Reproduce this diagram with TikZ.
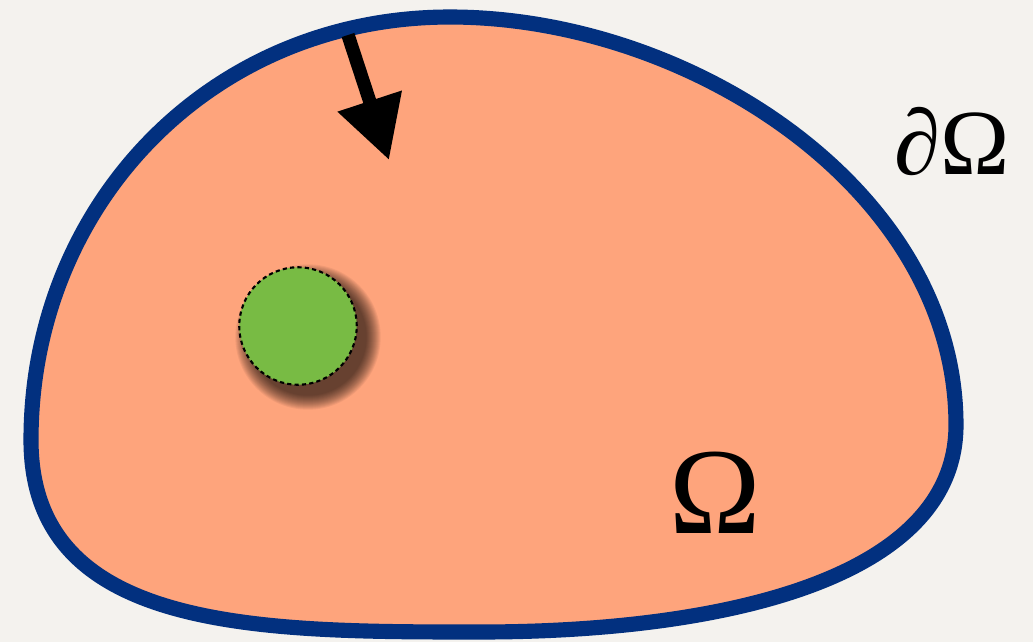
\documentclass[tikz,border=0pt]{standalone}
\usepackage{fontspec}
\newfontfamily\tms{Liberation Serif}
\usetikzlibrary{arrows.meta}
\definecolor{bgcol}{HTML}{F4F2EE}
\definecolor{salmon}{HTML}{FEA47C}
\definecolor{navy}{HTML}{02307F}
\definecolor{leaf}{HTML}{78BB44}
\tikzset{
  boundary/.style={draw=navy, line width=4.3pt, fill=salmon, line join=round},
  hole/.style={fill=leaf, draw=black, line width=0.6pt, dash pattern=on 1.2pt off 0.9pt},
  flux/.style={line width=3.8pt, -{Triangle[width=6.4mm,length=6.2mm]}},
  lbl/.style={inner sep=0pt, text=black}
}
\begin{document}
\begin{tikzpicture}[x=0.01cm,y=-0.01cm]
\useasboundingbox (0,0) rectangle (1033,642);
\fill[bgcol] (0,0) rectangle (1033,642);
% domain
\draw[boundary] (450,17) .. controls (690,17) and (956,190) .. (956,425)
  .. controls (956,580) and (720,632) .. (480,632)
  .. controls (260,632) and (31,632) .. (31,440)
  .. controls (31,205) and (210,17) .. cycle;
% shadow of hole
\foreach \i in {0,...,14}{
  \fill[black, opacity=0.055] (308,337) circle[radius={58.7+14-\i}];
}
\node[hole, circle, minimum size=1.174cm, inner sep=0pt] (hole) at (298,326) {};
% arrow
\coordinate (astart) at (348,35);
\coordinate (atip) at (389,160);
\draw[flux] (astart) -- (atip);
% labels
\node[lbl, font=\tms\fontsize{26.5}{31}\selectfont] (dom) at (952,142) {\itshape ∂\upshape Ω};
\node[lbl, font=\tms\fontsize{35}{42}\selectfont] (om) at (715,493) {Ω};
\end{tikzpicture}
\end{document}
